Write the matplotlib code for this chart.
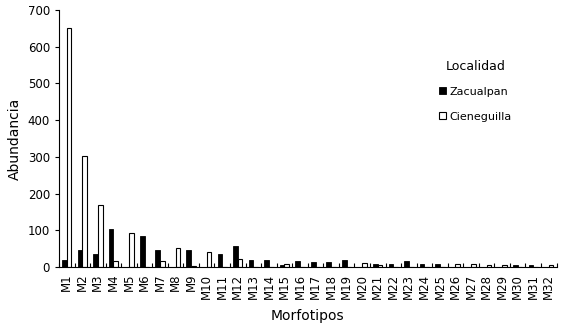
import matplotlib

matplotlib.use("Agg")
import matplotlib.pyplot as plt
import numpy as np

categories = [f"M{i}" for i in range(1, 33)]
zacualpan = [19, 46, 35, 103, 0, 85, 46, 0, 45, 0, 36, 58, 20, 18, 5, 17,
             14, 14, 20, 0, 9, 9, 15, 9, 7, 0, 0, 0, 0, 4, 5, 0]
cieneguilla = [650, 302, 169, 15, 92, 0, 15, 52, 3, 42, 0, 21, 0, 0, 9, 0,
               0, 0, 0, 11, 5, 0, 0, 0, 0, 8, 7, 6, 4, 0, 0, 5]
yticks = [0, 100, 200, 300, 400, 500, 600, 700]

plt.rcParams["font.family"] = "DejaVu Sans"

fig = plt.figure(figsize=(5.84, 3.32), dpi=100)
ax = fig.add_axes([0.101, 0.196, 0.852, 0.774])

x = np.arange(len(categories))
w = 0.3
ax.bar(x - w / 2, zacualpan, width=w, color="black", edgecolor="black",
       linewidth=0.6, label="Zacualpan")
ax.bar(x + w / 2, cieneguilla, width=w, color="white", edgecolor="black",
       linewidth=0.8, label="Cieneguilla")

ax.set_xlim(-0.5, len(categories) - 0.5)
ax.set_ylim(0, 700)
ax.set_yticks(yticks)
ax.set_xticks(x)
ax.set_xticklabels(categories, rotation=90, fontsize=8.5)
ax.set_xticks(np.arange(len(categories) + 1) - 0.5, minor=True)
ax.tick_params(axis="x", which="major", length=0, pad=5)
ax.tick_params(axis="x", which="minor", direction="in", length=3, width=0.8)
ax.tick_params(axis="y", direction="out", length=3, width=0.8, labelsize=8.5)

for side in ("top", "right"):
    ax.spines[side].set_visible(False)
for side in ("left", "bottom"):
    ax.spines[side].set_linewidth(0.8)

ax.set_ylabel("Abundancia", fontsize=10, labelpad=4)
ax.set_xlabel("Morfotipos", fontsize=10, labelpad=7)

leg = fig.legend(loc="upper left", bbox_to_anchor=(0.735, 0.85), frameon=False,
                 title="Localidad", fontsize=8, title_fontsize=9,
                 handlelength=0.6, handleheight=0.6, handletextpad=0.3,
                 labelspacing=1.35)
leg._legend_box.align = "center"
leg._legend_box.sep = 10

fig.savefig("out.png", dpi=100)
